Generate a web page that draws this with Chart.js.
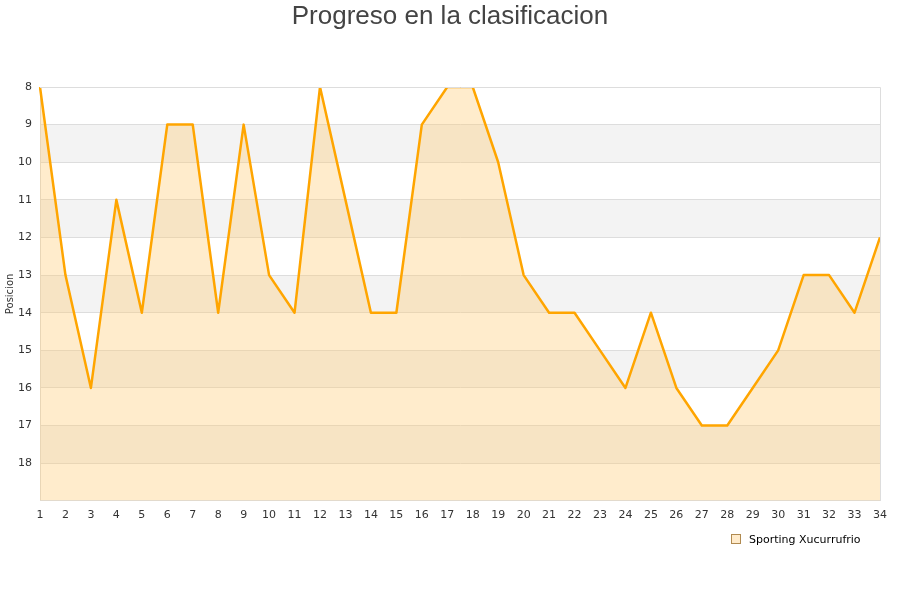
<!DOCTYPE html>
<html>
<head>
<meta charset="utf-8">
<script src="https://cdn.jsdelivr.net/npm/chart.js@4/dist/chart.umd.min.js"></script>
<style>
  body { margin: 0; background: #fff; }
  #wrap { position: relative; width: 900px; height: 600px; }
  #title { position: absolute; left: 0; top: -1px; width: 900px; text-align: center;
    font: 26px "Liberation Sans", Arial, sans-serif; color: #444; line-height: 32px; }
  #legend { position: absolute; left: 731px; top: 533px; font: 11px "DejaVu Sans", sans-serif; color: #000; }
  #legend span.box { display: inline-block; width: 8px; height: 8px; background: #ffebcb;
    border: 1px solid #b08a50; margin-right: 8px; vertical-align: -1px; }
</style>
</head>
<body>
<div id="wrap">
  <div id="title">Progreso en la clasificacion</div>
  <canvas id="c" width="900" height="600"></canvas>
  <div id="legend"><span class="box"></span>Sporting Xucurrufrio</div>
</div>
<script>
// -----------------------------
// Data
// -----------------------------
const jornadas = Array.from({ length: 34 }, (_, i) => String(i + 1));
const posiciones = [8, 13, 16, 11, 14, 9, 9, 14, 9, 13, 14, 8, 11, 14, 14, 9, 8, 8, 10, 13,
  14, 14, 15, 16, 14, 16, 17, 17, 16, 15, 13, 13, 14, 12];
const bandas = [[9, 10], [11, 12], [13, 14], [15, 16], [17, 18]];

// Alternating grey bands behind the grid
const bandPlugin = {
  id: 'bands',
  beforeDraw(chart) {
    const { ctx, chartArea, scales } = chart;
    ctx.save();
    ctx.fillStyle = '#f3f3f3';
    bandas.forEach(([a, b]) => {
      const y1 = scales.y.getPixelForValue(a);
      const y2 = scales.y.getPixelForValue(b);
      ctx.fillRect(chartArea.left, y1, chartArea.right - chartArea.left, y2 - y1);
    });
    ctx.restore();
  },
  afterDraw(chart) {
    const { ctx, chartArea } = chart;
    ctx.save();
    ctx.strokeStyle = '#dddddd';
    ctx.lineWidth = 1;
    ctx.beginPath();
    ctx.moveTo(chartArea.left, chartArea.top + 0.5);
    ctx.lineTo(chartArea.right + 0.5, chartArea.top + 0.5);
    ctx.lineTo(chartArea.right + 0.5, chartArea.bottom);
    ctx.stroke();
    ctx.restore();
  }
};

new Chart(document.getElementById('c'), {
  type: 'line',
  data: {
    labels: jornadas,
    datasets: [{
      label: 'Sporting Xucurrufrio',
      data: posiciones,
      borderColor: '#ffa500',
      borderWidth: 2.5,
      borderJoinStyle: 'round',
      backgroundColor: 'rgba(255,200,110,0.35)',
      fill: { value: 19 },
      tension: 0,
      pointRadius: 0
    }]
  },
  plugins: [bandPlugin],
  options: {
    responsive: false,
    animation: false,
    layout: { padding: { left: 4, right: 20, top: 87, bottom: 70 } },
    plugins: { legend: { display: false }, tooltip: { enabled: false } },
    scales: {
      x: {
        offset: false,
        grid: { display: false, drawTicks: false },
        border: { color: '#dddddd' },
        ticks: { color: '#333', font: { family: 'DejaVu Sans', size: 11 }, padding: 8, maxRotation: 0, autoSkip: false }
      },
      y: {
        reverse: true,
        min: 8,
        max: 19,
        afterFit(s) { s.width = 36; },
        grid: { color: '#dddddd', drawTicks: false },
        border: { color: '#dddddd' },
        title: { display: true, text: 'Posicion', color: '#333', font: { family: 'DejaVu Sans', size: 10 }, padding: 0 },
        ticks: {
          stepSize: 1,
          color: '#333',
          font: { family: 'DejaVu Sans', size: 11 },
          padding: 8,
          callback: v => (v === 19 ? '' : v)
        }
      }
    }
  }
});
</script>
</body>
</html>
